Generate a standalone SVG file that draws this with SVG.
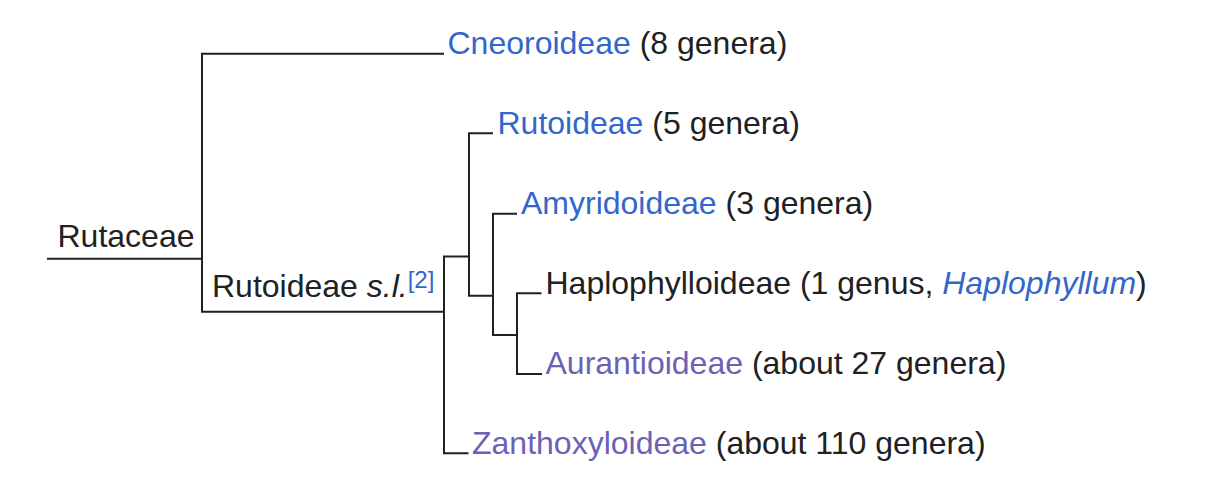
<svg xmlns="http://www.w3.org/2000/svg" width="1206" height="498" viewBox="0 0 1206 498">
<style>
text{font-family:"Liberation Sans",Arial,Helvetica,sans-serif;font-size:32px;fill:#202122}
.b{fill:#3366cc}
.p{fill:#6b62b5}
.i{font-style:italic}
.sup{font-size:24px;fill:#3366cc}
.ln{fill:none;stroke:#202122;stroke-width:2;stroke-linecap:square}
</style>
<rect width="1206" height="498" fill="#ffffff"/>
<g id="connectors">
<path class="ln" d="M48 258.7 H202"/>
<path class="ln" d="M443 53.7 H202 V311.7 H444"/>
<path class="ln" d="M469 256.5 H444 V453.3 H467.5"/>
<path class="ln" d="M492 133.3 H469 V295.7 H493"/>
<path class="ln" d="M516 213.7 H493 V335 H517"/>
<path class="ln" d="M540.5 293.3 H517 V374 H541"/>
</g>
<g id="rutaceae"><text x="57.5" y="246.7">Rutaceae</text></g>
<g id="rutoideae-sl"><text x="212" y="297.3">Rutoideae <tspan class="i">s.l.</tspan><tspan class="sup" dy="-9">[2]</tspan></text></g>
<g id="cneoroideae"><text x="447.5" y="54"><tspan class="b">Cneoroideae</tspan> (8 genera)</text></g>
<g id="rutoideae"><text x="497.5" y="133.5"><tspan class="b">Rutoideae</tspan> (5 genera)</text></g>
<g id="amyridoideae"><text x="521" y="213.5"><tspan class="b">Amyridoideae</tspan> (3 genera)</text></g>
<g id="haplophylloideae"><text x="545.5" y="293.5">Haplophylloideae (1 genus, <tspan class="b i">Haplophyllum</tspan>)</text></g>
<g id="aurantioideae"><text x="545.5" y="373.5"><tspan class="p">Aurantioideae</tspan> (about 27 genera)</text></g>
<g id="zanthoxyloideae"><text x="472" y="453.5"><tspan class="p">Zanthoxyloideae</tspan> (about 110 genera)</text></g>
</svg>
